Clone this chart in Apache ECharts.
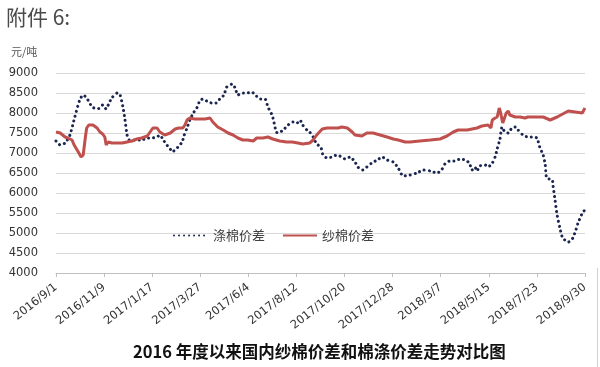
<!DOCTYPE html>
<html><head><meta charset="utf-8">
<script src="https://cdn.jsdelivr.net/npm/echarts@6/dist/echarts.min.js"></script>
<style>html,body{margin:0;padding:0;background:#fff}#c{width:600px;height:367px}</style>
</head><body><div id="c"></div>
<script>
const tickLabels = ['2016/9/1','2016/11/9','2017/1/17','2017/3/27','2017/6/4','2017/8/12','2017/10/20','2017/12/28','2018/3/7','2018/5/15','2018/7/23','2018/9/30'];

const polyDates = ['2016-09-01','2016-09-07','2016-09-14','2016-09-21','2016-09-28','2016-10-05','2016-10-10','2016-10-15','2016-10-23','2016-10-30','2016-11-03','2016-11-07','2016-11-12','2016-11-15','2016-11-20','2016-11-28','2016-12-02','2016-12-06','2016-12-09','2016-12-12','2016-12-15','2016-12-23','2017-01-02','2017-01-10','2017-01-17','2017-01-24','2017-01-28','2017-02-02','2017-02-07','2017-02-12','2017-02-14','2017-02-19','2017-02-23','2017-03-01','2017-03-04','2017-03-08','2017-03-12','2017-03-17','2017-03-22','2017-03-27','2017-04-01','2017-04-07','2017-04-13','2017-04-19','2017-04-24','2017-04-30','2017-05-04','2017-05-12','2017-05-16','2017-05-20','2017-05-26','2017-06-02','2017-06-09','2017-06-14','2017-06-21','2017-06-28','2017-07-02','2017-07-08','2017-07-11','2017-07-14','2017-07-17','2017-07-24','2017-07-31','2017-08-07','2017-08-13','2017-08-17','2017-08-21','2017-08-27','2017-08-31','2017-09-05','2017-09-10','2017-09-16','2017-09-19','2017-09-25','2017-10-02','2017-10-09','2017-10-16','2017-10-21','2017-10-28','2017-11-04','2017-11-08','2017-11-15','2017-11-21','2017-11-28','2017-12-06','2017-12-13','2017-12-20','2017-12-29','2018-01-05','2018-01-12','2018-01-22','2018-02-01','2018-02-10','2018-02-20','2018-03-02','2018-03-09','2018-03-13','2018-03-20','2018-03-27','2018-04-04','2018-04-11','2018-04-17','2018-04-21','2018-04-25','2018-04-28','2018-05-02','2018-05-10','2018-05-14','2018-05-20','2018-05-24','2018-05-27','2018-05-31','2018-06-03','2018-06-07','2018-06-12','2018-06-17','2018-06-22','2018-06-26','2018-07-03','2018-07-10','2018-07-17','2018-07-23','2018-07-27','2018-08-01','2018-08-04','2018-08-06','2018-08-14','2018-08-15','2018-08-18','2018-08-21','2018-08-25','2018-08-29','2018-09-06','2018-09-11','2018-09-16','2018-09-20','2018-09-27','2018-09-30'];
const polyValues = [7300,7200,7250,7450,7900,8325,8450,8375,8150,8100,8125,8200,8100,8200,8375,8500,8450,8150,7825,7450,7325,7325,7325,7375,7375,7400,7450,7325,7200,7100,7025,7075,7150,7275,7450,7625,7825,8000,8125,8325,8350,8275,8250,8250,8350,8450,8650,8725,8625,8450,8500,8500,8525,8450,8350,8350,8150,7950,7750,7525,7500,7575,7700,7775,7750,7825,7700,7575,7525,7400,7225,7150,6950,6875,6900,6950,6900,6850,6900,6775,6650,6575,6650,6750,6825,6900,6825,6775,6625,6425,6450,6500,6575,6550,6500,6600,6725,6800,6800,6850,6825,6750,6575,6650,6550,6675,6700,6650,6750,6900,7100,7350,7650,7525,7500,7625,7650,7575,7450,7400,7400,7375,7150,6950,6700,6375,6325,6200,5825,5450,5125,4875,4775,4825,5025,5250,5525,5575];

const yarnDates = ['2016-09-01','2016-09-07','2016-09-14','2016-09-18','2016-09-24','2016-09-27','2016-10-03','2016-10-07','2016-10-08','2016-10-10','2016-10-13','2016-10-15','2016-10-18','2016-10-24','2016-10-30','2016-11-03','2016-11-07','2016-11-10','2016-11-12','2016-11-15','2016-11-20','2016-11-28','2016-12-05','2016-12-12','2016-12-19','2016-12-26','2017-01-02','2017-01-10','2017-01-14','2017-01-18','2017-01-24','2017-01-28','2017-02-04','2017-02-12','2017-02-19','2017-02-24','2017-03-02','2017-03-05','2017-03-08','2017-03-12','2017-03-19','2017-03-27','2017-04-03','2017-04-10','2017-04-14','2017-04-21','2017-04-29','2017-05-06','2017-05-13','2017-05-20','2017-05-27','2017-06-03','2017-06-11','2017-06-16','2017-06-25','2017-07-02','2017-07-09','2017-07-19','2017-07-29','2017-08-06','2017-08-14','2017-08-21','2017-08-31','2017-09-05','2017-09-10','2017-09-18','2017-09-25','2017-10-03','2017-10-11','2017-10-16','2017-10-24','2017-10-31','2017-11-04','2017-11-14','2017-11-21','2017-11-30','2017-12-10','2017-12-20','2017-12-29','2018-01-05','2018-01-15','2018-01-22','2018-02-05','2018-02-20','2018-03-06','2018-03-16','2018-03-25','2018-04-01','2018-04-14','2018-04-21','2018-04-28','2018-05-05','2018-05-14','2018-05-18','2018-05-20','2018-05-24','2018-05-27','2018-05-30','2018-06-01','2018-06-03','2018-06-04','2018-06-09','2018-06-12','2018-06-14','2018-06-22','2018-06-29','2018-07-06','2018-07-10','2018-07-23','2018-08-01','2018-08-11','2018-08-21','2018-08-29','2018-09-06','2018-09-16','2018-09-26','2018-09-30'];
const yarnValues = [7525,7500,7400,7375,7325,7200,7025,6900,6850,6950,7375,7625,7700,7700,7625,7525,7475,7400,7200,7275,7250,7250,7250,7275,7300,7350,7375,7425,7525,7625,7625,7525,7450,7500,7600,7625,7625,7700,7825,7875,7850,7850,7850,7875,7775,7650,7575,7500,7450,7375,7325,7325,7300,7375,7375,7400,7350,7300,7275,7275,7250,7225,7250,7325,7450,7600,7625,7625,7625,7650,7625,7525,7450,7425,7500,7500,7450,7400,7350,7325,7275,7275,7300,7325,7350,7425,7525,7575,7575,7600,7625,7675,7700,7625,7825,7875,7900,8125,8000,7825,7750,8000,8050,7950,7900,7900,7875,7900,7900,7900,7825,7900,7975,8050,8025,8000,8125];

const seriesNames = ['涤棉价差','纱棉价差'];
const yTicks = {min: 4000, max: 9000, step: 500};

const START = Date.UTC(2016, 8, 1);
function dayOf(s){const p=s.split('-');return Math.round((Date.UTC(+p[0],+p[1]-1,+p[2])-START)/86400000);}
const pair = (ds, vs) => ds.map((d,i)=>[dayOf(d), vs[i]]);
const TICK_DAYS = dayOf('2016-11-09');
const LAST_DAY = dayOf('2018-09-30');

const chart = echarts.init(document.getElementById('c'), null, {renderer:'canvas'});
chart.setOption({
  animation: false,
  backgroundColor: '#ffffff',
  grid: {left: 56, right: 15, top: 73, bottom: 94, containLabel: false},
  xAxis: {
    type: 'value', min: 0, max: LAST_DAY, interval: TICK_DAYS,
    axisLine: {show: true, lineStyle: {color: '#bfbfbf', width: 1}},
    axisTick: {show: true, length: 4, lineStyle: {color: '#bfbfbf'}},
    splitLine: {show: false},
    axisLabel: {
      rotate: 38, margin: 13, fontSize: 11.5, color: '#333',
      fontFamily: 'DejaVu Sans', showMaxLabel: true, showMinLabel: true,
      formatter: v => tickLabels[Math.round(v / TICK_DAYS)] || ''
    }
  },
  yAxis: {
    type: 'value', min: yTicks.min, max: yTicks.max, interval: yTicks.step,
    axisLine: {show: false}, axisTick: {show: false},
    splitLine: {lineStyle: {color: '#d9d9d9', width: 1}},
    axisLabel: {margin: 18, fontSize: 11.5, color: '#333', fontFamily: 'DejaVu Sans', formatter: v => String(v)}
  },
  legend: {
    left: 168, top: 224, itemWidth: 34, itemHeight: 12, itemGap: 17,
    itemStyle: {opacity: 0},
    textStyle: {fontSize: 13, color: '#404040', fontFamily: 'Noto Sans CJK SC'},
    data: seriesNames
  },
  series: [
    {
      name: seriesNames[0], type: 'line', data: pair(polyDates, polyValues),
      showSymbol: false, symbol: 'none', smooth: 0.2,
      lineStyle: {color: '#1a2550', width: 3, type: [0.01, 5], cap: 'round'},
      itemStyle: {color: '#1a2550'}, z: 2
    },
    {
      name: seriesNames[1], type: 'line', data: pair(yarnDates, yarnValues),
      showSymbol: false, symbol: 'none',
      lineStyle: {color: '#c0504d', width: 3},
      itemStyle: {color: '#c0504d'}, z: 3
    }
  ],
  graphic: [
    {type: 'text', left: 6, top: 7, style: {text: '附件 6:', fontSize: 21, fill: '#4a4a4a', fontFamily: 'Noto Sans CJK SC'}},
    {type: 'text', left: 11, top: 46, style: {text: '元/吨', fontSize: 11, fill: '#555', fontFamily: 'Noto Sans CJK SC'}},
    {type: 'text', left: 133, top: 343, style: {text: '2016 年度以来国内纱棉价差和棉涤价差走势对比图', fontSize: 16.5, fontWeight: 'bold', fill: '#111', fontFamily: 'Noto Sans CJK SC'}},
    {type: 'line', shape: {x1: 597.5, y1: 268, x2: 597.5, y2: 367}, style: {stroke: '#d0d0d0', lineWidth: 1}}
  ]
});
</script>
</body></html>
